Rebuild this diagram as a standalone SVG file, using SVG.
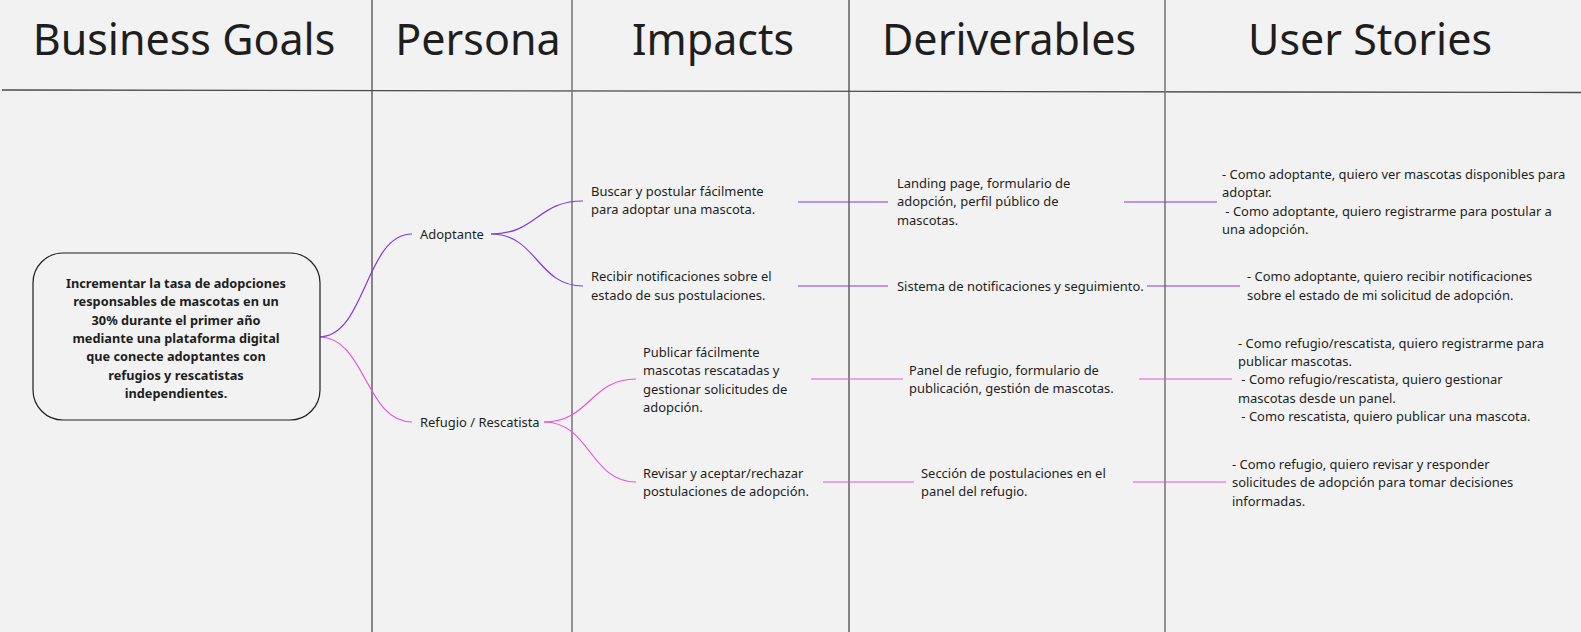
<svg xmlns="http://www.w3.org/2000/svg" width="1581" height="632" viewBox="0 0 1581 632">
  <style>
    .hdr { font-family: "Noto Sans", "Open Sans", sans-serif; font-size: 43px; fill: #1e1e1e; text-anchor: middle; }
    .txt { font-family: "Noto Sans", "Open Sans", sans-serif; font-size: 12.95px; fill: #1e1e1e; white-space: pre; }
    .goal { font-family: "Noto Sans", "Open Sans", sans-serif; font-size: 12.75px; font-weight: bold; fill: #1e1e1e; text-anchor: middle; }
    .grid { stroke: #4a4a4a; stroke-width: 1.3; fill: none; }
    .grid2 { stroke: #7a7a7a; stroke-width: 1.6; fill: none; }
    .pur { stroke: #7d3be0; stroke-width: 1.2; fill: none; }
    .pnk { stroke: #e456d8; stroke-width: 1.2; fill: none; }
  </style>

  <rect width="1581" height="632" fill="#f2f2f2"/>

  <!-- column grid -->
  <g id="grid">
    <line class="grid" x1="2" y1="90" x2="1581" y2="92.5"/>
    <line class="grid" x1="372" y1="0" x2="372" y2="632"/>
    <line class="grid2" x1="572" y1="0" x2="572" y2="632"/>
    <line class="grid" x1="849" y1="0" x2="849" y2="632"/>
    <line class="grid2" x1="1165" y1="0" x2="1165" y2="632"/>
  </g>

  <!-- column headers -->
  <g id="headers">
    <text class="hdr" x="184" y="55">Business Goals</text>
    <text class="hdr" x="478" y="55">Persona</text>
    <text class="hdr" x="713" y="55">Impacts</text>
    <text class="hdr" x="1009" y="55">Deriverables</text>
    <text class="hdr" x="1370" y="55">User Stories</text>
  </g>

  <!-- connectors -->
  <g id="connectors">
    <path class="pur" d="M319,337 C366,337 365,234 412,234"/>
    <path class="pnk" d="M319,337 C366,337 365,422 412,422"/>
    <path class="pur" d="M491,234 C537,234 537,201 583,201"/>
    <path class="pur" d="M491,234 C537,234 537,286 583,286"/>
    <path class="pnk" d="M544,422 C590,422 590,379 636,379"/>
    <path class="pnk" d="M544,422 C590,422 590,482 636,482"/>
    <line class="pur" x1="798" y1="202" x2="888" y2="202"/>
    <line class="pur" x1="798" y1="286" x2="888" y2="286"/>
    <line class="pnk" x1="811" y1="379" x2="903" y2="379"/>
    <line class="pnk" x1="823" y1="482" x2="914" y2="482"/>
    <line class="pur" x1="1124" y1="202" x2="1217" y2="202"/>
    <line class="pur" x1="1147" y1="286" x2="1240" y2="286"/>
    <line class="pnk" x1="1139" y1="379" x2="1232" y2="379"/>
    <line class="pnk" x1="1133" y1="482" x2="1226" y2="482"/>
  </g>

  <!-- business goal -->
  <g id="goal">
    <rect x="33" y="253" width="287" height="167" rx="30" ry="30" fill="#f2f2f2" stroke="#1e1e1e" stroke-width="1.2"/>
    <text class="goal" x="176" y="288">Incrementar la tasa de adopciones</text>
    <text class="goal" x="176" y="306">responsables de mascotas en un</text>
    <text class="goal" x="176" y="324.5">30% durante el primer año</text>
    <text class="goal" x="176" y="343">mediante una plataforma digital</text>
    <text class="goal" x="176" y="361">que conecte adoptantes con</text>
    <text class="goal" x="176" y="379.5">refugios y rescatistas</text>
    <text class="goal" x="176" y="398">independientes.</text>
  </g>

  <!-- personas -->
  <g id="persona-adoptante">
    <text class="txt" x="420" y="238.5">Adoptante</text>
  </g>
  <g id="persona-refugio">
    <text class="txt" x="420" y="426.5">Refugio / Rescatista</text>
  </g>

  <!-- impacts -->
  <g id="impact-buscar">
    <text class="txt" x="591" y="196">Buscar y postular fácilmente</text>
    <text class="txt" x="591" y="214">para adoptar una mascota.</text>
  </g>
  <g id="impact-recibir">
    <text class="txt" x="591" y="281">Recibir notificaciones sobre el</text>
    <text class="txt" x="591" y="300">estado de sus postulaciones.</text>
  </g>
  <g id="impact-publicar">
    <text class="txt" x="643" y="357">Publicar fácilmente</text>
    <text class="txt" x="643" y="375">mascotas rescatadas y</text>
    <text class="txt" x="643" y="393.5">gestionar solicitudes de</text>
    <text class="txt" x="643" y="412">adopción.</text>
  </g>
  <g id="impact-revisar">
    <text class="txt" x="643" y="478">Revisar y aceptar/rechazar</text>
    <text class="txt" x="643" y="496">postulaciones de adopción.</text>
  </g>

  <!-- deliverables -->
  <g id="deliv-landing">
    <text class="txt" x="897" y="188">Landing page, formulario de</text>
    <text class="txt" x="897" y="206">adopción, perfil público de</text>
    <text class="txt" x="897" y="225">mascotas.</text>
  </g>
  <g id="deliv-notif">
    <text class="txt" x="897" y="290.5">Sistema de notificaciones y seguimiento.</text>
  </g>
  <g id="deliv-panel">
    <text class="txt" x="909" y="375">Panel de refugio, formulario de</text>
    <text class="txt" x="909" y="393">publicación, gestión de mascotas.</text>
  </g>
  <g id="deliv-seccion">
    <text class="txt" x="921" y="478">Sección de postulaciones en el</text>
    <text class="txt" x="921" y="496">panel del refugio.</text>
  </g>

  <!-- user stories -->
  <g id="story-adoptante-1">
    <text class="txt" x="1222" y="179">- Como adoptante, quiero ver mascotas disponibles para</text>
    <text class="txt" x="1222" y="197">adoptar.</text>
    <text class="txt" x="1222" y="215.5"> - Como adoptante, quiero registrarme para postular a</text>
    <text class="txt" x="1222" y="234">una adopción.</text>
  </g>
  <g id="story-adoptante-2">
    <text class="txt" x="1247" y="281">- Como adoptante, quiero recibir notificaciones</text>
    <text class="txt" x="1247" y="300">sobre el estado de mi solicitud de adopción.</text>
  </g>
  <g id="story-refugio-1">
    <text class="txt" x="1238" y="348">- Como refugio/rescatista, quiero registrarme para</text>
    <text class="txt" x="1238" y="366">publicar mascotas.</text>
    <text class="txt" x="1238" y="384"> - Como refugio/rescatista, quiero gestionar</text>
    <text class="txt" x="1238" y="402.5">mascotas desde un panel.</text>
    <text class="txt" x="1238" y="421"> - Como rescatista, quiero publicar una mascota.</text>
  </g>
  <g id="story-refugio-2">
    <text class="txt" x="1232" y="469">- Como refugio, quiero revisar y responder</text>
    <text class="txt" x="1232" y="487">solicitudes de adopción para tomar decisiones</text>
    <text class="txt" x="1232" y="506">informadas.</text>
  </g>
</svg>
